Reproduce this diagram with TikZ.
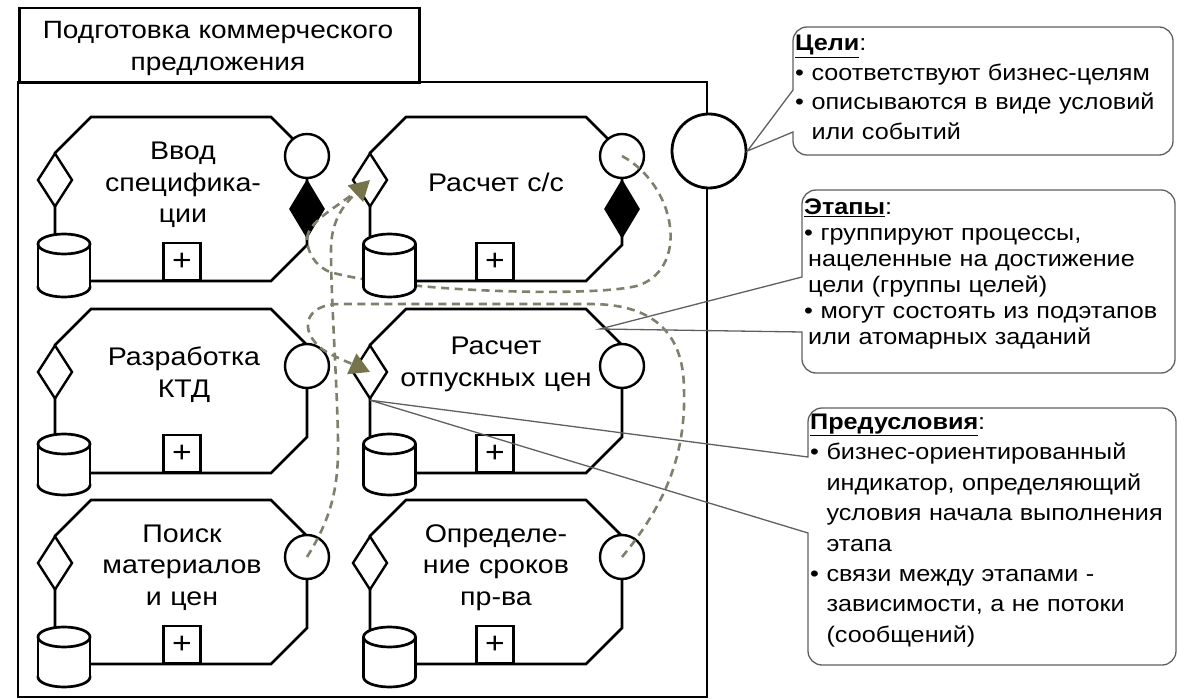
\documentclass[tikz,border=0pt]{standalone}
\usepackage{fontspec}
\setmainfont{Liberation Sans}[FakeStretch=1.12]
\usetikzlibrary{arrows.meta,shapes.geometric}
\definecolor{dashc}{RGB}{128,127,108}
\definecolor{arrc}{RGB}{118,116,76}
\definecolor{callc}{RGB}{95,95,95}

\tikzset{
 frameline/.style={line width=2.5pt},
 stgline/.style={line width=2.7pt, line join=miter},
 prediam/.style={diamond, draw, fill=white, line width=2.4pt, minimum width=35pt, minimum height=54pt, inner sep=0pt},
 blackdiam/.style={diamond, draw, fill=black, line width=2.4pt, minimum width=34pt, minimum height=56pt, inner sep=0pt},
 goalcirc/.style={circle, draw, fill=white, line width=2.4pt, minimum size=44pt, inner sep=0pt},
 plusbox/.style={rectangle, draw, fill=white, line width=2.2pt, minimum size=37pt, inner sep=0pt, font=\fontsize{30}{30}\selectfont},
 stagetxt/.style={anchor=base, align=center, text width=240pt, inner sep=0pt, font=\fontsize{25.5}{31.5}\selectfont},
 titlebox/.style={draw, line width=2.5pt, minimum width=400pt, minimum height=75pt, inner sep=0pt, anchor=north west},
 titletxt/.style={anchor=base, align=center, text width=390pt, inner sep=0pt, font=\fontsize{25}{32}\selectfont},
 goalbig/.style={circle, draw, fill=white, line width=2.8pt, minimum size=74pt, inner sep=0pt},
 dep/.style={dashc, line width=2.6pt, dash pattern=on 8pt off 5.5pt},
 deparrow/.style={dep, -{Triangle[length=20pt,width=22pt,color=arrc]}},
 callbox/.style={draw=callc, line width=1.3pt},
 calltxt/.style={anchor=base west, align=left, text width=375pt, inner sep=0pt},
}

\newcommand{\StageBody}[8]{%
  \pgfmathsetmacro\sR{#2+252}%
  \draw[stgline] (#6,#4) -- ({\sR-36},#4) -- (\sR,{#4-36}) -- (\sR,{#3+36}) -- ({\sR-36},#3) -- ({#2+36},#3) -- (#2,{#3+36}) -- (#2,{#8+10});
  \node[prediam] (#1p) at (#2,{#3+63}) {};
  \ifnum#5=1
    \node[goalcirc] (#1g) at (\sR,{#3+39}) {};
    \node[blackdiam] (#1b) at (\sR,{#3+92}) {};
  \else
    \node[goalcirc] (#1g) at (\sR,{#3+57}) {};
  \fi
  \node[plusbox, anchor=south] (#1x) at (#7,#4) {+};
}

\newcommand{\CylDraw}[3]{%
  \filldraw[stgline, fill=white] (#1,{#3-10}) ellipse [x radius=26pt, y radius=10pt];
  \fill[white] ({#1-26},{#2+10}) rectangle ({#1+26},{#3-10});
  \draw[stgline] ({#1-26},{#2+10}) -- ({#1-26},{#3-10}) ({#1+26},{#2+10}) -- ({#1+26},{#3-10});
  \filldraw[stgline, fill=white] (#1,{#2+10}) ellipse [x radius=26pt, y radius=10pt];
}

\begin{document}
\begin{tikzpicture}[x=1pt,y=-1pt]
\useasboundingbox (0,0) rectangle (1178,700);

% frame
\draw[frameline] (18,82) rectangle (707,697);
\node[titlebox] (title) at (18,7) {};
\node[titletxt] (titlet) at (218,39) {Подготовка коммерческого\\предложения};
\node[goalbig] (gl) at (709,151) {};

% stages
\StageBody{s11}{55}{117}{281}{1}{64}{182}{234}
\StageBody{s12}{370}{117}{281}{1}{389.5}{495}{234}
\StageBody{s21}{55}{309}{473}{0}{64}{182}{434}
\StageBody{s22}{370}{309}{473}{0}{389.5}{495}{434}
\StageBody{s31}{55}{500}{664}{0}{64}{182}{627}
\StageBody{s32}{370}{500}{664}{0}{389.5}{495}{627}

% labels
\node[stagetxt] (s11t) at (183,160) {Ввод\\специфика-\\ции};
\node[stagetxt] (s12t) at (496,192) {Расчет с/с};
\node[stagetxt] (s21t) at (184,366) {Разработка\\КТД};
\node[stagetxt] (s22t) at (496,355) {Расчет\\отпускных цен};
\node[stagetxt] (s31t) at (182,542) {Поиск\\материалов\\и цен};
\node[stagetxt] (s32t) at (496,542) {Определе-\\ние сроков\\пр-ва};

% callouts
\coordinate (ap2) at (600,329);
\draw[callbox] (793,90) [rounded corners=14pt] -- (793,27) -- (1173,27) -- (1173,155) -- (793,155) [sharp corners] -- (793,132) -- (gl.east) -- cycle;
\draw[callbox] (802,277) [rounded corners=14pt] -- (802,190) -- (1175,190) -- (1175,373) -- (802,373) [sharp corners] -- (802,332) -- (ap2) -- cycle;
\draw[callbox] (808,457) [rounded corners=14pt] -- (808,408) -- (1176,408) -- (1176,665) -- (808,665) [sharp corners] -- (808,533) -- (s22p.south) -- cycle;

\node[calltxt, font=\fontsize{22.5}{29.5}\selectfont] (c1t) at (795,51)
 {\underline{\textbf{Цели}}:\\• соответствуют бизнес-целям\\• описываются в виде условий\\\hphantom{• }или событий};
\node[calltxt, font=\fontsize{22.5}{26}\selectfont] (c2t) at (804,215)
 {\underline{\textbf{Этапы}}:\\• группируют процессы,\\\hspace*{4pt}нацеленные на достижение\\\hspace*{4pt}цели (группы целей)\\• могут состоять из подэтапов\\\hspace*{4pt}или атомарных заданий};
\node[calltxt, font=\fontsize{22.5}{30.5}\selectfont] (c3t) at (810,429)
 {\underline{\textbf{Предусловия}}:\\• бизнес-ориентированный\\\hphantom{• }индикатор, определяющий\\\hphantom{• }условия начала выполнения\\\hphantom{• }этапа\\• связи между этапами -\\\hphantom{• }зависимости, а не потоки\\\hphantom{• }(сообщений)};

% dependencies
\draw[dep] (s12g.center) .. controls (675,185) and (690,265) .. (640,285) .. controls (600,298) and (400,292) .. (330,272) .. controls (315,266) and (307,252) .. (s11b.south);
\draw[dep, shorten >=12pt] (s11b.south) .. controls (309,220) and (338,207) .. (s12p.center);
\draw[deparrow] (s31g.center) .. controls (330,520) and (339,490) .. (338,440) .. controls (337,380) and (331,300) .. (331,250) .. controls (331,225) and (340,208) .. (s12p.center);
\draw[deparrow] (s32g.center) .. controls (665,505) and (686,455) .. (684,390) .. controls (684,330) and (650,304) .. (590,304) -- (340,304) .. controls (305,304) and (298,330) .. (322,349) .. controls (332,356) and (350,363) .. (s22p.center);

% data stores
\CylDraw{64}{234}{297}
\CylDraw{389.5}{234}{297}
\CylDraw{64}{434}{495}
\CylDraw{389.5}{434}{495}
\CylDraw{64}{627}{687}
\CylDraw{389.5}{627}{687}
\end{tikzpicture}
\end{document}
